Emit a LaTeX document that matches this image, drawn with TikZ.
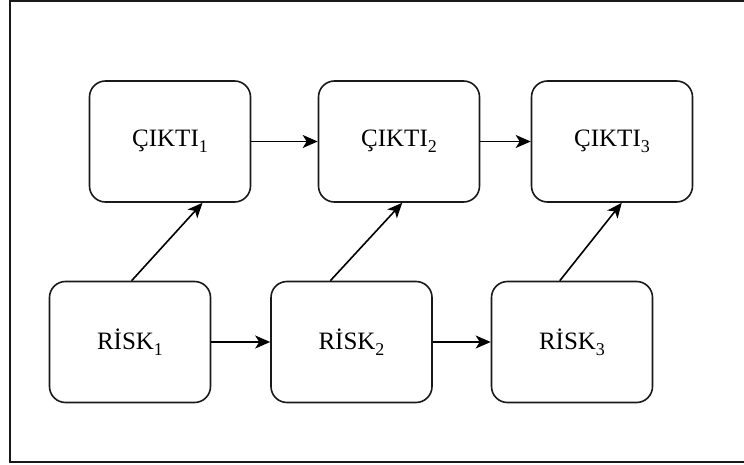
\documentclass[tikz,border=0pt]{standalone}
\usepackage{fontspec}
\setmainfont{Liberation Serif}
\usetikzlibrary{arrows.meta,calc}
% subscript digit, set lower and larger than \textsubscript
\newcommand{\lowidx}[1]{\raisebox{-6pt}{\fontsize{18}{20}\selectfont #1}}
\begin{document}
\begin{tikzpicture}[x=1pt,y=-1pt,
  stage/.style={draw=black!90, line width=1.6pt, rounded corners=16pt,
    minimum width=161pt, minimum height=121pt, inner sep=0pt,
    font=\fontsize{25}{30}\selectfont, text=black},
  link/.style={draw=black, line width=1.6pt,
    -{Stealth[length=15pt,width=13pt,inset=4pt]}, shorten >=0pt}]
\useasboundingbox (0,0) rectangle (744,465);
% outer frame
\draw[line width=1.8pt, black!90] (10,1) rectangle (745.5,462);

% output row
\node[stage] (c1) at (170,141.5) {ÇIKTI\lowidx{1}};
\node[stage] (c2) at (399,141.5) {ÇIKTI\lowidx{2}};
\node[stage] (c3) at (612,141.5) {ÇIKTI\lowidx{3}};

% risk row
\node[stage] (r1) at (130,342) {RİSK\lowidx{1}};
\node[stage] (r2) at (351.5,342) {RİSK\lowidx{2}};
\node[stage] (r3) at (572,342) {RİSK\lowidx{3}};

% horizontal links
\draw[link] (c1.east) -- (c2.west);
\draw[link] (c2.east) -- (c3.west);
\draw[link] (r1.east) -- (r2.west);
\draw[link] (r2.east) -- (r3.west);

% risk to output links
\draw[link] ($(r1.north west)!0.51!(r1.north east)$) -- ($(c1.south west)!0.70!(c1.south east)$);
\draw[link] ($(r2.north west)!0.37!(r2.north east)$) -- ($(c2.south west)!0.52!(c2.south east)$);
\draw[link] ($(r3.north west)!0.425!(r3.north east)$) -- ($(c3.south west)!0.56!(c3.south east)$);
\end{tikzpicture}
\end{document}
